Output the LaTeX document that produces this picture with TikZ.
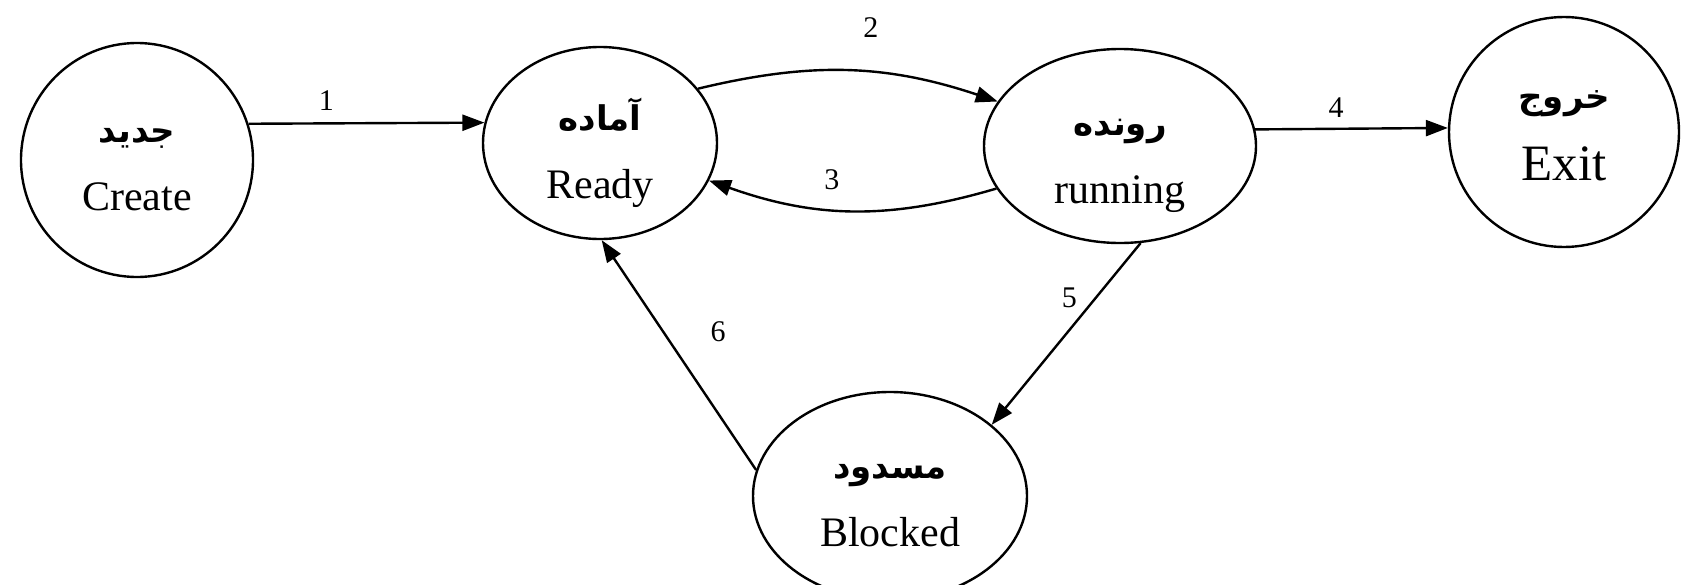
\documentclass[tikz,border=0pt]{standalone}
\usepackage{fontspec}
\setmainfont{Liberation Serif}
\newfontfamily\farsi[Script=Arabic]{DejaVu Sans}
\TeXXeTstate=1
\usetikzlibrary{%
	shapes,%
	arrows.meta
}

\newcommand{\fa}[1]{{\farsi\bfseries\fontsize{17}{20}\selectfont\beginR #1\endR}}

\begin{document}
\begin{tikzpicture}[x=0.5pt,y=-0.5pt,
	state/.style={draw, ellipse, line width=1.2pt, inner sep=0pt},
	txt/.style={align=center, inner sep=0pt, font=\fontsize{21}{34}\selectfont},
	edge/.style={line width=1.2pt, -{Triangle[length=11pt,width=8pt]}},
	num/.style={inner sep=0pt, font=\fontsize{15}{18}\selectfont}]
		\useasboundingbox (0,0) rectangle (1692,584);
		
		% States
		\node[state, minimum width=116pt, minimum height=117pt, label={[txt, yshift=-5pt]center:{\fa{جدید}\\Create}}] (create) at (137,160) {};
		\node[state, minimum width=117pt, minimum height=96pt, label={[txt, yshift=-5pt]center:{\fa{آماده}\\Ready}}] (ready) at (600,143) {};
		\node[state, minimum width=136pt, minimum height=97pt, label={[txt, yshift=-10pt]center:{\fa{رونده}\\running}}] (running) at (1120,146) {};
		\node[state, minimum width=115pt, minimum height=115pt, label={[txt, yshift=-2pt, font=\fontsize{25.5}{36}\selectfont]center:{\fa{خروج}\\Exit}}] (exit) at (1564,132) {};
		\node[state, minimum width=137pt, minimum height=104pt, label={[txt, yshift=-5pt]center:{\fa{مسدود}\\Blocked}}] (blocked) at (890,496) {};
		
		% Transitions
		\draw[edge] (create.18) -- node[num, pos=0.33, above=6pt] {1} (ready.170);
		\draw[edge] (ready.29) to[bend left=16] node[num, midway, above=16pt, xshift=11pt] {2} (running.160);
		\draw[edge] (running.199) to[bend left=18] node[num, midway, above=10pt, xshift=-10pt] {3} (ready.-19);
		\draw[edge] (running.7) -- node[num, pos=0.42, above=5pt] {4} (exit.178);
		\draw[edge] (running.-78) -- node[num, pos=0.3, left=9pt] {5} (blocked.35);
		\draw[edge] (blocked.169) -- node[num, pos=0.6, right=23pt] {6} (ready.-89);
	\end{tikzpicture}
\end{document}
